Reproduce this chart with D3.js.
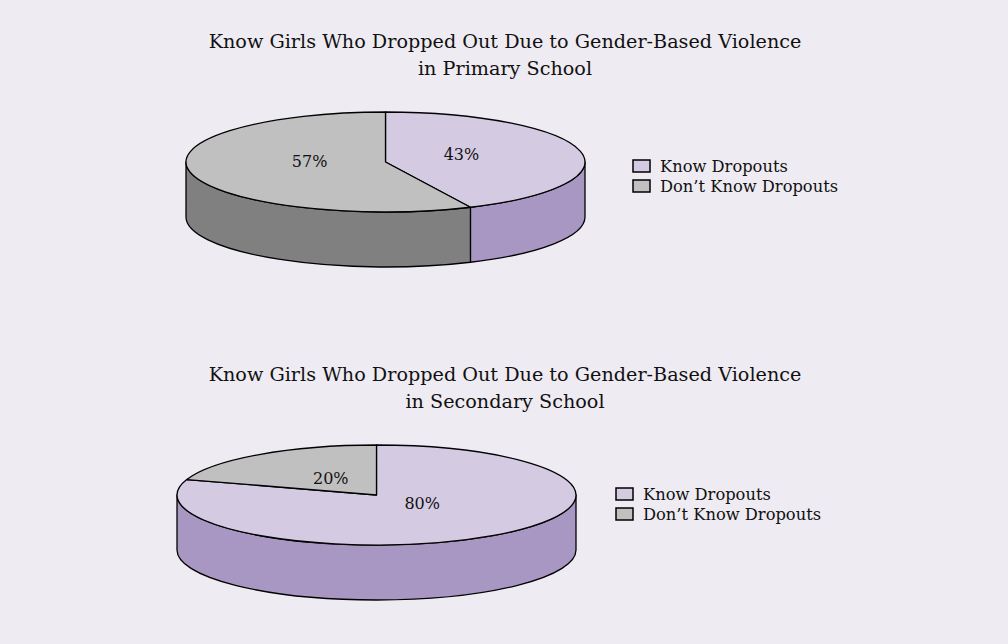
<!DOCTYPE html>
<html>
<head>
<meta charset="utf-8">
<script src="https://cdn.jsdelivr.net/npm/d3@7"></script>
<style>
  body { margin: 0; background: #eeebf2; }
  text { font-family: "DejaVu Serif", "Liberation Serif", serif; fill: #111; }
</style>
</head>
<body>
<div id="chart"></div>
<script>
// Data
const categories = ['Know Dropouts', 'Don\u2019t Know Dropouts']
const primaryValues = [43, 57]
const secondaryValues = [80, 20]
const titles = [
  ['Know Girls Who Dropped Out Due to Gender-Based Violence', 'in Primary School'],
  ['Know Girls Who Dropped Out Due to Gender-Based Violence', 'in Secondary School']
]

// Basic variables
const width = 1008
const height = 644
const topColor = d3.scaleOrdinal().domain(categories).range(['#d4cbe3', '#c0c0c0'])
const sideColor = d3.scaleOrdinal().domain(categories).range(['#a897c2', '#808080'])

const svg = d3.select('#chart')
  .append('svg')
  .attr('width', width)
  .attr('height', height)

svg.append('rect')
  .attr('width', width)
  .attr('height', height)
  .attr('fill', '#eeebf2')

const panels = [
  {values: primaryValues, title: titles[0], cx: 385.5, cy: 162, titleY: 48, legendX: 633, legendY: 160},
  {values: secondaryValues, title: titles[1], cx: 376.5, cy: 495, titleY: 381, legendX: 616, legendY: 488}
]

const rx = 199.5
const ry = 50
const depth = 55

const pie = d3.pie().sort(null)

function pt(cx, cy, a, dy = 0) {
  return [cx + rx * Math.sin(a), cy - ry * Math.cos(a) + dy]
}

function topPath(cx, cy, d) {
  let p1 = pt(cx, cy, d.startAngle)
  let p2 = pt(cx, cy, d.endAngle)
  let large = (d.endAngle - d.startAngle) > Math.PI ? 1 : 0
  return `M${cx},${cy}L${p1}A${rx},${ry} 0 ${large} 1 ${p2}Z`
}

function sidePath(cx, cy, d) {
  // only the front half of the rim is visible
  let a1 = Math.max(d.startAngle, Math.PI / 2)
  let a2 = Math.min(d.endAngle, Math.PI * 1.5)
  if (a2 <= a1) return null
  let p1 = pt(cx, cy, a1)
  let p2 = pt(cx, cy, a2)
  let q1 = pt(cx, cy, a1, depth)
  let q2 = pt(cx, cy, a2, depth)
  return `M${p1}A${rx},${ry} 0 0 1 ${p2}L${q2}A${rx},${ry} 0 0 0 ${q1}Z`
}

panels.forEach((panel) => {
  let g = svg.append('g')
  let arcs = pie(panel.values)

  // title
  g.selectAll('text.title')
    .data(panel.title)
    .enter()
    .append('text')
    .attr('class', 'title')
    .attr('x', 505)
    .attr('y', (d, i) => panel.titleY + i * 27)
    .attr('text-anchor', 'middle')
    .attr('font-size', 19.2)
    .text((d) => d)

  // sides first, then tops
  g.selectAll('path.side')
    .data(arcs.filter((d) => sidePath(panel.cx, panel.cy, d)))
    .enter()
    .append('path')
    .attr('class', 'side')
    .attr('d', (d) => sidePath(panel.cx, panel.cy, d))
    .attr('fill', (d) => sideColor(categories[d.index]))
    .attr('stroke', '#000')
    .attr('stroke-width', 1.3)
    .attr('stroke-linejoin', 'round')

  g.selectAll('path.top')
    .data(arcs)
    .enter()
    .append('path')
    .attr('class', 'top')
    .attr('d', (d) => topPath(panel.cx, panel.cy, d))
    .attr('fill', (d) => topColor(categories[d.index]))
    .attr('stroke', '#000')
    .attr('stroke-width', 1.3)
    .attr('stroke-linejoin', 'round')

  // percentage labels sit part way out along the middle of each slice
  g.selectAll('text.label')
    .data(arcs)
    .enter()
    .append('text')
    .attr('class', 'label')
    .attr('x', (d) => panel.cx + rx * 0.39 * Math.sin((d.startAngle + d.endAngle) / 2))
    .attr('y', (d) => panel.cy - ry * 0.3 * Math.cos((d.startAngle + d.endAngle) / 2) - 4)
    .attr('text-anchor', 'middle')
    .attr('dominant-baseline', 'central')
    .attr('font-size', 16)
    .text((d) => d.data + '%')

  // legend
  let legend = g.selectAll('g.legend')
    .data(categories)
    .enter()
    .append('g')
    .attr('class', 'legend')
    .attr('transform', (d, i) => `translate(${panel.legendX},${panel.legendY + i * 20})`)

  legend.append('rect')
    .attr('width', 17)
    .attr('height', 12)
    .attr('fill', (d) => topColor(d))
    .attr('stroke', '#000')
    .attr('stroke-width', 1.5)

  legend.append('text')
    .attr('x', 27)
    .attr('y', 12)
    .attr('font-size', 16.3)
    .text((d) => d)
})
</script>
</body>
</html>
